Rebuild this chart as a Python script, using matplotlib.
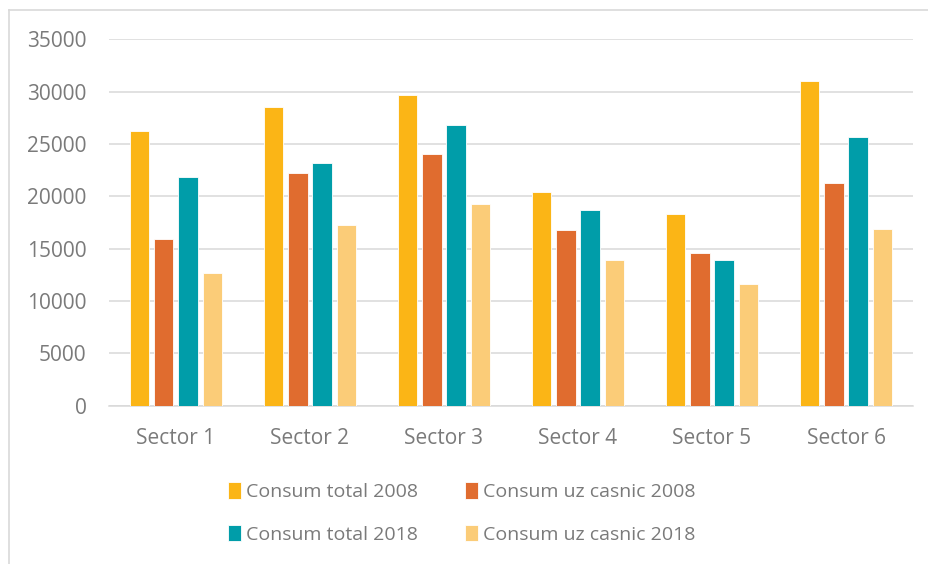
"""
Consum total si consum uz casnic pe sectoare, 2008 vs 2018.
Grouped bar chart.
"""

import numpy as np
import matplotlib.pyplot as plt
from matplotlib.lines import Line2D

sectors = ["Sector 1", "Sector 2", "Sector 3", "Sector 4", "Sector 5", "Sector 6"]

total_2008 = [26200, 28500, 29700, 20400, 18300, 31000]
casnic_2008 = [15900, 22200, 24000, 16800, 14600, 21300]
total_2018 = [21800, 23200, 26800, 18700, 13900, 25700]
casnic_2018 = [12700, 17300, 19300, 13900, 11600, 16900]

series = [
    ("Consum total 2008", total_2008, "#FBB516"),
    ("Consum uz casnic 2008", casnic_2008, "#E06C2F"),
    ("Consum total 2018", total_2018, "#009DA9"),
    ("Consum uz casnic 2018", casnic_2018, "#FBCC78"),
]

text_color = "#7a7a7a"
grid_color = "#d9d9d9"

plt.rcParams["font.family"] = ["Open Sans", "DejaVu Sans"]

fig = plt.figure(figsize=(9.29, 5.64), dpi=100)
ax = fig.add_axes([0.1173, 0.2809, 0.8655, 0.6494])

x = np.arange(len(sectors))
step = 0.181
width = 0.144

bars = []
for i, (label, values, color) in enumerate(series):
    b = ax.bar(x + (i - 1.5) * step, values, width, color=color,
               edgecolor="white", linewidth=0.6, label=label, zorder=3)
    bars.append(b)

ax.set_xlim(-0.5, len(sectors) - 0.5)
ax.set_ylim(0, 35000)
ax.set_yticks(np.arange(0, 35001, 5000))
ax.set_xticks(x)
ax.set_xticklabels(sectors)

ax.yaxis.grid(True, color=grid_color, linewidth=1.1, zorder=0)
ax.set_axisbelow(True)
for side in ["top", "right", "left"]:
    ax.spines[side].set_visible(False)
ax.spines["bottom"].set_color(grid_color)
ax.spines["bottom"].set_linewidth(1.1)

ax.tick_params(axis="both", length=0, labelsize=15, labelcolor=text_color)
ax.tick_params(axis="y", pad=16)
ax.tick_params(axis="x", pad=16.5)

# Legend laid out row by row: 2008 row then 2018 row.
order = [0, 2, 1, 3]
leg = fig.legend([bars[i] for i in order], [series[i][0] for i in order],
                 loc="center", bbox_to_anchor=(461.5 / 929, 1 - 513 / 564),
                 ncol=2, frameon=False, fontsize=14,
                 handlelength=0.67, handleheight=0.95, handletextpad=0.26,
                 columnspacing=2.4, labelspacing=1.2, borderpad=0)
for t in leg.get_texts():
    t.set_color(text_color)

# Chart-area border (left and top edges visible).
fig.add_artist(Line2D([8.5 / 929, 8.5 / 929], [0, 1 - 9.5 / 564],
                      transform=fig.transFigure, color=grid_color, linewidth=1.2))
fig.add_artist(Line2D([8.5 / 929, 1], [1 - 9.5 / 564, 1 - 9.5 / 564],
                      transform=fig.transFigure, color=grid_color, linewidth=1.2))

plt.savefig("out.png", dpi=100)
